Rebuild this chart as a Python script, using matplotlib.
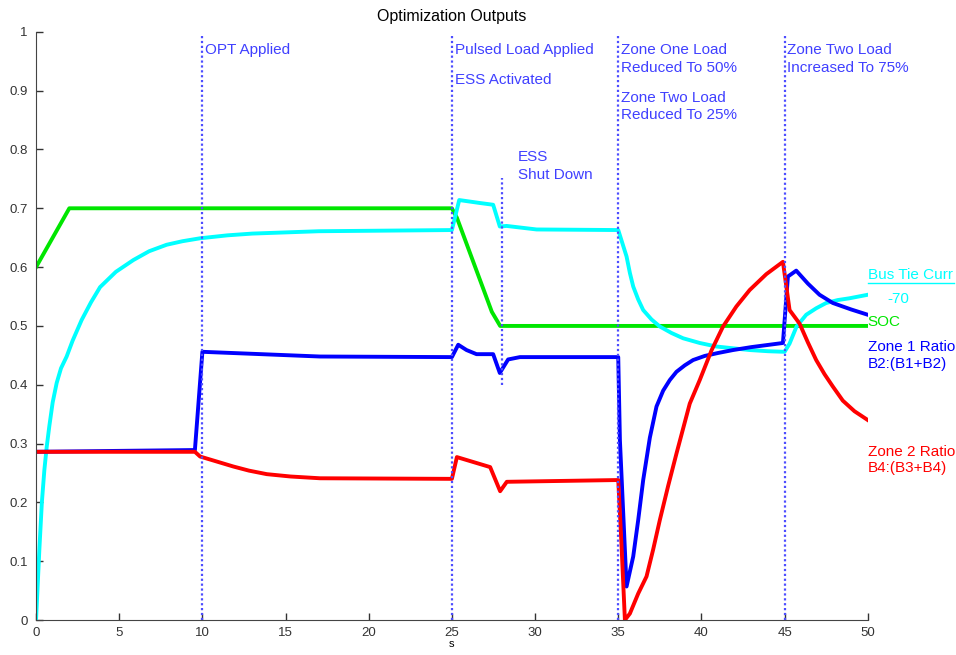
import matplotlib.pyplot as plt

plt.rcParams['font.family'] = ['Liberation Sans', 'DejaVu Sans']

# values
soc_t = [0, 2, 25, 25.3, 27.4, 27.9, 50]
soc_v = [0.6, 0.7, 0.7, 0.684, 0.524, 0.5, 0.5]

bus_t = [0, 0.1, 0.2, 0.35, 0.5, 0.64, 0.8, 1.0, 1.24, 1.5, 1.84, 2.2, 2.74, 3.3, 3.85, 4.8,
         5.85, 6.8, 7.85, 8.8, 9.86, 11.5, 13, 15, 17, 25,
         25.44, 26.68, 27.48, 27.88, 28.29, 30.09, 35.0, 35.2, 35.5, 35.7, 35.9, 36.2, 36.5,
         37.0, 37.5, 38.2, 38.9, 39.9, 40.9, 41.9, 42.9, 44.0, 45.0, 45.3, 45.72, 46.3, 46.9,
         47.5, 48.2, 48.9, 50]
bus_v = [0.0, 0.06, 0.12, 0.2, 0.255, 0.294, 0.33, 0.37, 0.403, 0.428, 0.448, 0.475, 0.51, 0.54,
         0.566, 0.592, 0.612, 0.627, 0.638, 0.644, 0.649, 0.654, 0.657, 0.659, 0.661, 0.663,
         0.714, 0.709, 0.706, 0.669, 0.67, 0.664, 0.663, 0.645, 0.618, 0.59, 0.567, 0.545, 0.527,
         0.511, 0.499, 0.488, 0.479, 0.471, 0.465, 0.462, 0.459, 0.457, 0.456, 0.47, 0.499,
         0.519, 0.53, 0.539, 0.544, 0.547, 0.553]

z1_t = [0, 9.55, 10.0, 17.07, 25, 25.38, 25.88, 26.48, 27.48, 27.88, 28.38, 29.09, 35.0, 35.1,
        35.3, 35.5, 35.9, 36.2, 36.5, 36.9, 37.3, 37.7, 38.1, 38.5, 39.0, 39.5, 40.2, 41.0, 41.9,
        43.0, 44.9, 45.2, 45.7, 46.4, 47.1, 47.9, 49.0, 50]
z1_v = [0.286, 0.289, 0.456, 0.448, 0.447, 0.468, 0.459, 0.452, 0.452, 0.42, 0.443, 0.447, 0.447,
        0.306, 0.181, 0.057, 0.108, 0.17, 0.238, 0.31, 0.363, 0.39, 0.408, 0.422, 0.433, 0.442,
        0.449, 0.454, 0.459, 0.464, 0.471, 0.584, 0.594, 0.572, 0.553, 0.539, 0.528, 0.519]

z2_t = [0, 9.55, 9.86, 10.8, 11.86, 12.8, 13.87, 15.3, 17.07, 25, 25.3, 27.3, 27.9, 28.3, 35.0,
        35.2, 35.4, 35.7, 36.2, 36.7, 37.1, 37.5, 38.0, 38.5, 39.3, 39.9, 40.6, 41.3, 42.1, 42.9,
        43.9, 44.9, 45.3, 45.9, 46.4, 46.9, 47.4, 47.9, 48.5, 49.2, 50]
z2_v = [0.286, 0.286, 0.278, 0.27, 0.261, 0.254, 0.248, 0.244, 0.241, 0.24, 0.277, 0.26, 0.219,
        0.235, 0.238, 0.125, 0.0, 0.011, 0.045, 0.074, 0.12, 0.17, 0.228, 0.283, 0.368, 0.408,
        0.458, 0.499, 0.533, 0.561, 0.588, 0.609, 0.527, 0.504, 0.472, 0.442, 0.418, 0.397,
        0.373, 0.355, 0.34]

events = [10, 25, 35, 45]
blue_txt = (0.25, 0.25, 1.0)
cyan = (0, 1, 1)
green = (0, 0.9, 0)

fig = plt.figure(figsize=(9.56, 6.55), dpi=100)
ax = fig.add_axes([0.0377, 0.0534, 0.870, 0.898])

ax.plot(soc_t, soc_v, color=green, lw=2.8)
ax.plot(bus_t, bus_v, color=cyan, lw=2.8)
ax.plot(z1_t, z1_v, color=(0, 0, 1), lw=2.8)
ax.plot(z2_t, z2_v, color=(1, 0, 0), lw=2.8)

for e in events:
    ax.plot([e, e], [0, 0.995], color=(0.3, 0.3, 1), lw=1.6, ls=(0, (1, 1.2)), clip_on=False)
ax.plot([28, 28], [0.4, 0.752], color=(0.3, 0.3, 1), lw=1.6, ls=(0, (1, 1.2)))

fs = 11
# (x, y, text, colour) - one entry per text line
notes = [
    (10.15, 0.969, "OPT Applied", blue_txt),
    (25.2, 0.969, "Pulsed Load Applied", blue_txt),
    (25.2, 0.918, "ESS Activated", blue_txt),
    (28.95, 0.787, "ESS", blue_txt),
    (28.95, 0.756, "Shut Down", blue_txt),
    (35.15, 0.969, "Zone One Load", blue_txt),
    (35.15, 0.938, "Reduced To 50%", blue_txt),
    (35.15, 0.887, "Zone Two Load", blue_txt),
    (35.15, 0.858, "Reduced To 25%", blue_txt),
    (45.13, 0.969, "Zone Two Load", blue_txt),
    (45.13, 0.938, "Increased To 75%", blue_txt),
    (50.0, 0.586, "Bus Tie Curr", cyan),
    (51.2, 0.545, "-70", cyan),
    (50.0, 0.506, "SOC", green),
    (50.0, 0.465, "Zone 1 Ratio", (0, 0, 1)),
    (50.0, 0.435, "B2:(B1+B2)", (0, 0, 1)),
    (50.0, 0.285, "Zone 2 Ratio", (1, 0, 0)),
    (50.0, 0.258, "B4:(B3+B4)", (1, 0, 0)),
]
for x, y, s, c in notes:
    ax.text(x, y, s, color=c, fontsize=fs, va="center", clip_on=False)
ax.plot([50.0, 55.2], [0.573, 0.573], color=cyan, lw=1, clip_on=False)

ax.set_xlim(0, 50)
ax.set_ylim(0, 1)
ax.set_xticks(range(0, 51, 5))
ax.set_yticks([i / 10 for i in range(11)])
ax.set_yticklabels(["0", "0.1", "0.2", "0.3", "0.4", "0.5", "0.6", "0.7", "0.8", "0.9", "1"])
ax.tick_params(direction="in", length=5, labelsize=9.5, colors="#333333", width=1)
ax.tick_params(axis="x", pad=5)
ax.tick_params(axis="y", pad=6)
ax.spines["top"].set_visible(False)
ax.spines["right"].set_visible(False)
ax.spines["left"].set_color("#444444")
ax.spines["bottom"].set_color("#444444")
ax.set_xlabel("s", fontsize=8, labelpad=0)
ax.set_title("Optimization Outputs", fontsize=11.5, pad=8)

plt.savefig("out.png", dpi=100)
